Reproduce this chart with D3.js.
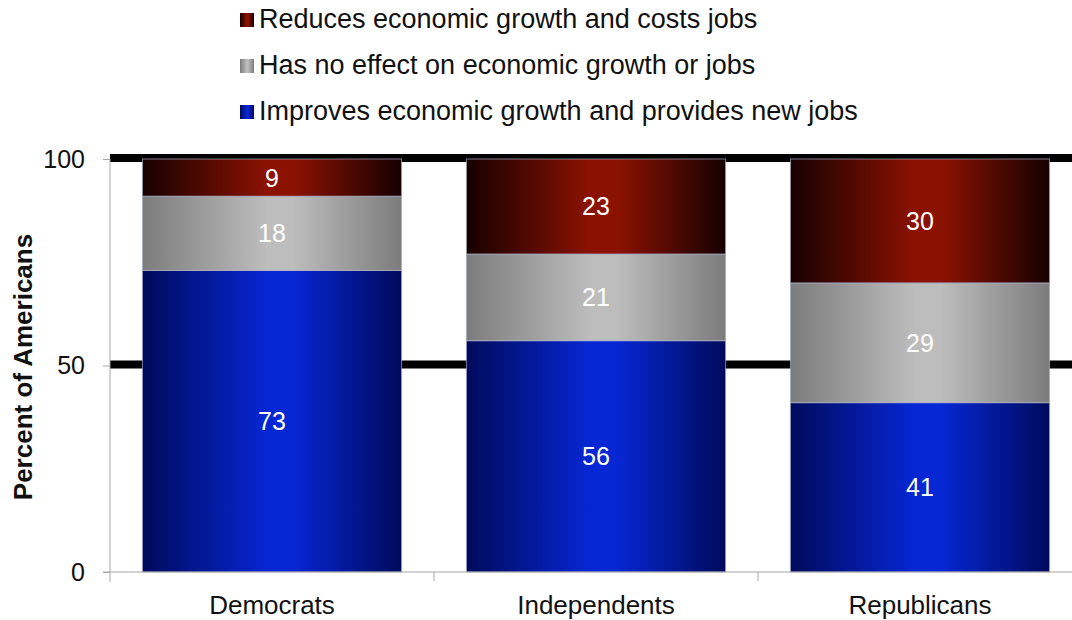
<!DOCTYPE html>
<html>
<head>
<meta charset="utf-8">
<script src="https://cdn.jsdelivr.net/npm/d3@7"></script>
<style>
  html, body { margin: 0; padding: 0; background: #fff; }
  svg { display: block; font-family: "Liberation Sans", Arial, sans-serif; }
</style>
</head>
<body>
<svg id="chart" width="1072" height="620"></svg>
<script>
// Party groups along the x axis
const categories = ["Democrats", "Independents", "Republicans"];
// Stacked shares, bottom to top
const improves = [73, 56, 41];
const noEffect = [18, 21, 29];
const reduces = [9, 23, 30];
const seriesNames = [
  "Improves economic growth and provides new jobs",
  "Has no effect on economic growth or jobs",
  "Reduces economic growth and costs jobs"
];
const yTicks = [0, 50, 100];
const gridValues = [50, 100];

// Gradient stops (edge, centre) for each series
const palette = [
  { edge: "#000a5c", mid: "#0627d4" },
  { edge: "#7c7c7c", mid: "#bdbdbd" },
  { edge: "#160000", mid: "#8c1200" }
];

const svg = d3.select("#chart");
const margin = { left: 110, top: 159, bottom: 572 };
const plotRight = 1082;

const x = d3.scaleBand().domain(categories).range([margin.left, plotRight]).paddingInner(0.2).paddingOuter(0.1);
const xOuter = d3.scaleBand().domain(categories).range([margin.left, plotRight]);
const y = d3.scaleLinear().domain([0, 100]).range([margin.bottom, margin.top]);

const rows = categories.map((c, i) => ({ cat: c, s0: improves[i], s1: noEffect[i], s2: reduces[i] }));
const stacked = d3.stack().keys(["s0", "s1", "s2"])(rows);

// Horizontal gradients, dark at the edges
const defs = svg.append("defs");
palette.forEach((p, i) => {
  const g = defs.append("linearGradient").attr("id", "grad" + i)
    .attr("x1", "0%").attr("x2", "100%").attr("y1", "0%").attr("y2", "0%");
  g.append("stop").attr("offset", "0%").attr("stop-color", p.edge);
  g.append("stop").attr("offset", "48%").attr("stop-color", p.mid);
  g.append("stop").attr("offset", "58%").attr("stop-color", p.mid);
  g.append("stop").attr("offset", "100%").attr("stop-color", p.edge);
});

// Heavy reference lines at 50 and 100
svg.append("g").selectAll("line").data(gridValues).join("line")
  .attr("x1", margin.left).attr("x2", 1072)
  .attr("y1", d => y(d) - 1).attr("y2", d => y(d) - 1)
  .attr("stroke", "#000").attr("stroke-width", 8);

// Stacked bars
const layer = svg.append("g").selectAll("g").data(stacked).join("g")
  .attr("fill", (d, i) => `url(#grad${i})`);
layer.selectAll("rect").data(d => d).join("rect")
  .attr("x", d => x(d.data.cat))
  .attr("width", x.bandwidth())
  .attr("y", d => y(d[1]))
  .attr("height", d => y(d[0]) - y(d[1]))
  .attr("stroke", "rgba(170,175,200,0.7)")
  .attr("stroke-width", 1);

// Value labels
const labels = svg.append("g").attr("fill", "#fff").attr("font-size", 25).attr("text-anchor", "middle");
stacked.forEach(s => {
  s.forEach(d => {
    labels.append("text")
      .attr("x", x(d.data.cat) + x.bandwidth() / 2)
      .attr("y", y((d[0] + d[1]) / 2))
      .attr("dy", "0.36em")
      .text(d[1] - d[0]);
  });
});

// Y axis
const yAxis = svg.append("g").attr("transform", `translate(${margin.left},0)`)
  .call(d3.axisLeft(y).tickValues(yTicks).tickSize(7).tickSizeOuter(0).tickPadding(18));
yAxis.select(".domain").attr("stroke", "#a6a6a6").attr("d", `M0,${margin.top}V${margin.bottom + 10}`);
yAxis.selectAll(".tick line").attr("stroke", "#a6a6a6");
yAxis.selectAll("text").attr("font-size", 25).attr("fill", "#111").attr("font-family", "Liberation Sans, Arial, sans-serif");

// X axis with tick marks at category boundaries
svg.append("line")
  .attr("x1", margin.left - 7).attr("x2", 1072)
  .attr("y1", margin.bottom).attr("y2", margin.bottom)
  .attr("stroke", "#a6a6a6");
svg.append("g").selectAll("line").data(categories.slice(1)).join("line")
  .attr("x1", d => xOuter(d)).attr("x2", d => xOuter(d))
  .attr("y1", margin.bottom).attr("y2", margin.bottom + 9)
  .attr("stroke", "#a6a6a6");
svg.append("g").selectAll("text").data(categories).join("text")
  .attr("x", d => xOuter(d) + xOuter.bandwidth() / 2)
  .attr("y", 614)
  .attr("text-anchor", "middle")
  .attr("font-size", 26).attr("fill", "#111")
  .text(d => d);

// Y title
svg.append("text")
  .attr("transform", "translate(32,367) rotate(-90)")
  .attr("text-anchor", "middle")
  .attr("font-size", 26).attr("font-weight", "bold").attr("fill", "#111")
  .text("Percent of Americans");

// Legend, top series first
const legendOrder = [2, 1, 0];
const legend = svg.append("g").selectAll("g").data(legendOrder).join("g")
  .attr("transform", (d, i) => `translate(240,${13 + i * 46})`);
legend.append("rect").attr("width", 14).attr("height", 14)
  .attr("fill", d => `url(#grad${d})`);
legend.append("text").attr("x", 19).attr("y", 14.5)
  .attr("font-size", 27).attr("fill", "#111")
  .text(d => seriesNames[d]);
</script>
</body>
</html>
